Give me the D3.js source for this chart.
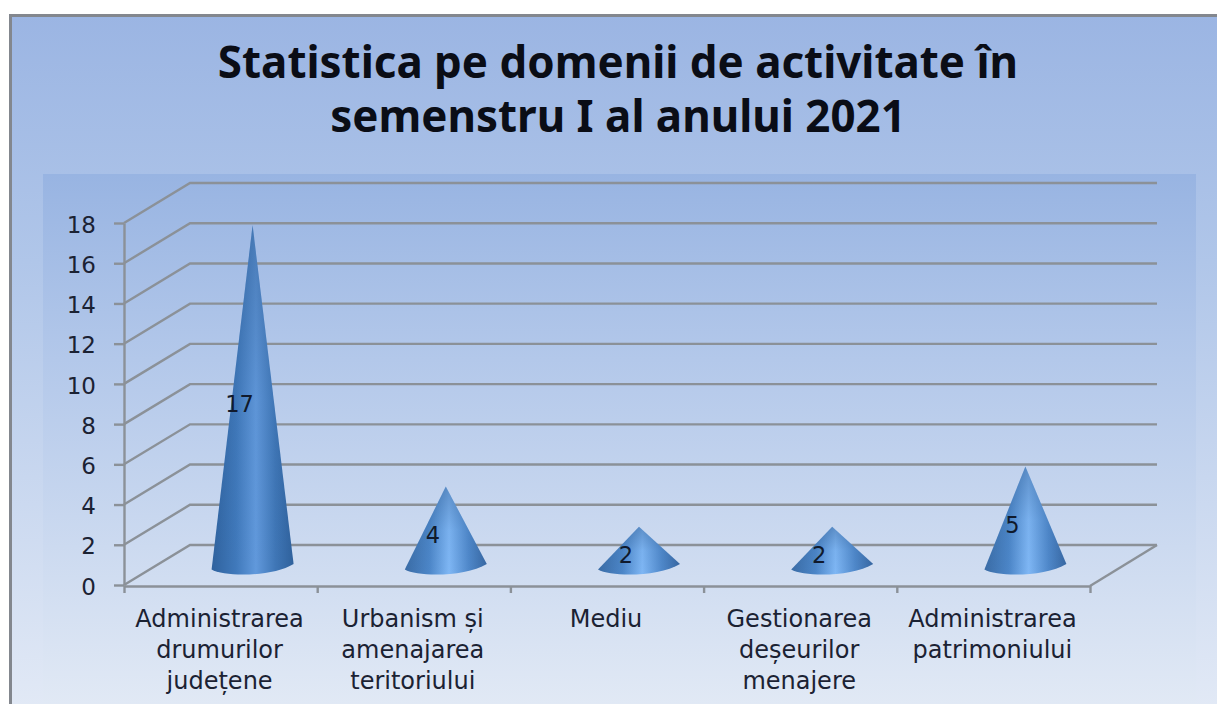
<!DOCTYPE html>
<html>
<head>
<meta charset="utf-8">
<script src="https://cdn.jsdelivr.net/npm/d3@7"></script>
<style>
html, body { margin: 0; padding: 0; background: #fff; overflow: hidden; }
text { font-family: "DejaVu Sans", sans-serif; }
</style>
</head>
<body>
<div id="chart"></div>
<script>
// data
var titleLines = ["Statistica pe domenii de activitate în", "semenstru I al anului 2021"];
var categories = [
    ["Administrarea", "drumurilor", "județene"],
    ["Urbanism și", "amenajarea", "teritoriului"],
    ["Mediu"],
    ["Gestionarea", "deșeurilor", "menajere"],
    ["Administrarea", "patrimoniului"]
];
var values = [17, 4, 2, 2, 5];
var yTicks = [0, 2, 4, 6, 8, 10, 12, 14, 16, 18];

var width = 1217, height = 704;
var depthX = 66, depthY = 40;
var gridColor = "#8b9198", textColor = "#1b2233";

var svg = d3.select("#chart").append("svg")
    .attr("width", width)
    .attr("height", height)
    .style("display", "block");

var defs = svg.append("defs");

function vGradient(id, stops) {
    var g = defs.append("linearGradient").attr("id", id)
        .attr("x1", 0).attr("y1", 0).attr("x2", 0).attr("y2", 1);
    stops.forEach(function(s) {
        g.append("stop").attr("offset", s[0]).attr("stop-color", s[1]).attr("stop-opacity", s[2] === undefined ? 1 : s[2]);
    });
}

function hGradient(id, stops) {
    var g = defs.append("linearGradient").attr("id", id)
        .attr("x1", 0).attr("y1", 0).attr("x2", 1).attr("y2", 0);
    stops.forEach(function(s) {
        g.append("stop").attr("offset", s[0]).attr("stop-color", s[1]);
    });
}

vGradient("panelFill", [[0, "#9bb5e3"], [0.35, "#b0c6e9"], [1, "#e3eaf6"]]);
vGradient("plotFill", [[0, "#98b4e2"], [0.35, "#b3c8ea"], [1, "#e1e9f5"]]);
hGradient("coneTall", [[0, "#2f629e"], [0.3, "#4079bb"], [0.54, "#6199dc"], [0.78, "#3f76b6"], [1, "#2f619c"]]);
hGradient("coneShort", [[0, "#3a6ca6"], [0.3, "#4c86c8"], [0.54, "#7fb7f5"], [0.78, "#4f88ca"], [1, "#3767a2"]]);
vGradient("coneShade", [[0, "#1d4474", 0.35], [0.5, "#1d4474", 0.05], [1, "#1d4474", 0]]);

// panel
svg.append("rect")
    .attr("x", 10.5).attr("y", 15.5)
    .attr("width", width).attr("height", height)
    .attr("fill", "url(#panelFill)")
    .attr("stroke", "#83878e")
    .attr("stroke-width", 3);

// plot area
svg.append("rect")
    .attr("x", 43).attr("y", 174)
    .attr("width", 1153).attr("height", 530)
    .attr("fill", "url(#plotFill)");

// title
svg.selectAll(".title").data(titleLines).enter().append("text")
    .attr("class", "title")
    .attr("x", 618)
    .attr("y", function(d, i) { return 78 + i * 54; })
    .attr("text-anchor", "middle")
    .attr("font-size", 43.9)
    .attr("font-weight", "bold")
    .attr("fill", "#0a0d16")
    .style("font-family", '"Noto Sans", sans-serif')
    .text(function(d) { return d; });

// scales: front edge of the box, the back wall is shifted by the depth
var x = d3.scaleBand().domain(d3.range(categories.length)).range([124, 1090]);
var y = d3.scaleLinear().domain([0, 18]).range([585, 223]);

// gridlines on the side and back walls
var grid = svg.append("g")
    .attr("fill", "none")
    .attr("stroke", gridColor)
    .attr("stroke-width", 2.4);

grid.selectAll("path").data(yTicks).enter().append("path")
    .attr("d", function(d) {
        var p = d3.path();
        p.moveTo(x.range()[0], y(d));
        p.lineTo(x.range()[0] + depthX, y(d) - depthY);
        p.lineTo(x.range()[1] + depthX + 1, y(d) - depthY);
        return p.toString();
    });

// right edge of the floor
grid.append("line")
    .attr("x1", x.range()[1]).attr("y1", y(0) + 1)
    .attr("x2", x.range()[1] + depthX + 1).attr("y2", y(0) - depthY);

// axes
var yAxis = d3.axisLeft(y).tickValues(yTicks).tickSize(10).tickPadding(18).tickSizeOuter(0);
var gy = svg.append("g")
    .attr("transform", "translate(" + x.range()[0] + ",0)")
    .call(yAxis);

var edges = d3.range(categories.length + 1).map(function(i) { return x.range()[0] + i * x.step(); });
var xEdge = d3.scaleLinear().domain([x.range()[0], x.range()[1]]).range(x.range());
var xAxis = d3.axisBottom(xEdge).tickValues(edges).tickSize(7).tickSizeOuter(0).tickFormat("");
var gx = svg.append("g")
    .attr("transform", "translate(0," + (y(0) + 1) + ")")
    .call(xAxis);

[gy, gx].forEach(function(g) {
    g.selectAll("path, line").attr("stroke", gridColor).attr("stroke-width", 2.4);
    g.selectAll("text")
        .attr("font-family", '"DejaVu Sans", sans-serif')
        .attr("font-size", 23)
        .attr("dy", "0.4em")
        .attr("fill", textColor);
});

// category labels
var labels = svg.selectAll(".cat").data(categories).enter().append("g").attr("class", "cat");
labels.selectAll("text").data(function(d, i) {
        return d.map(function(t, j) { return {text: t, line: j, index: i}; });
    })
    .enter().append("text")
    .attr("x", function(d) { return x(d.index) + x.bandwidth() / 2 - 1; })
    .attr("y", function(d) { return 627 + d.line * 31; })
    .attr("text-anchor", "middle")
    .attr("font-size", 24)
    .attr("fill", textColor)
    .text(function(d) { return d.text; });

// cones stand half way into the box, the base ellipse is slightly tilted
var coneDx = 33, coneDy = 18, coneRx = 41;

function conePath(d, i) {
    var cx = x(i) + x.bandwidth() / 2 + coneDx - 1;
    var base = y(0) - coneDy;
    var p = d3.path();
    p.moveTo(cx - coneRx, base + 2.5);
    p.bezierCurveTo(cx - 28, base + 10, cx + 20, base + 10, cx + coneRx, base - 3);
    p.lineTo(cx, y(d) - coneDy);
    p.closePath();
    return p.toString();
}

var cones = svg.selectAll(".cone").data(values).enter().append("g").attr("class", "cone");
cones.append("path")
    .attr("d", conePath)
    .attr("fill", function(d) { return d > 10 ? "url(#coneTall)" : "url(#coneShort)"; });
cones.append("path")
    .attr("d", conePath)
    .attr("fill", "url(#coneShade)");

// value labels
cones.append("text")
    .attr("x", function(d, i) { return x(i) + x.bandwidth() / 2 + coneDx - 14; })
    .attr("y", function(d) { return y(d / 2) - coneDy + 16; })
    .attr("text-anchor", "middle")
    .attr("font-size", 22.5)
    .attr("fill", "#101a2c")
    .text(function(d) { return d; });
</script>
</body>
</html>
